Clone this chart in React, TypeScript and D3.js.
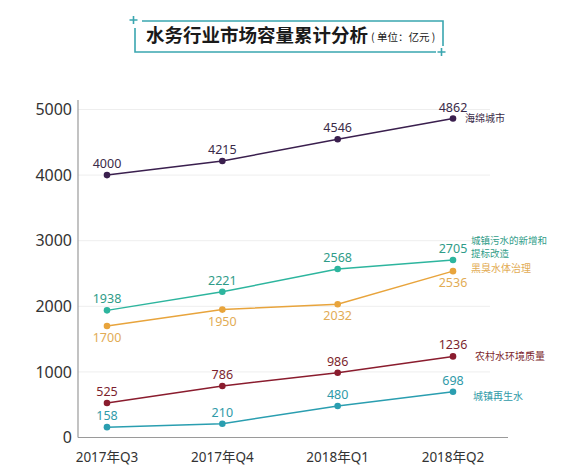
import React from "react";
import * as d3 from "d3";

const quarters = ["2017年Q3", "2017年Q4", "2018年Q1", "2018年Q2"];
const yTicks = [0, 1000, 2000, 3000, 4000, 5000];

const spongeCity = [4000, 4215, 4546, 4862];
const urbanSewage = [1938, 2221, 2568, 2705];
const blackOdorous = [1700, 1950, 2032, 2536];
const ruralWater = [525, 786, 986, 1236];
const reclaimedWater = [158, 210, 480, 698];

const seriesList = [
  { name: ["海绵城市"], values: spongeCity, color: "#3a1f4e", text: "#3a2a48", below: false },
  { name: ["城镇污水的新增和", "提标改造"], values: urbanSewage, color: "#2db59e", text: "#2f9c88", below: false },
  { name: ["黑臭水体治理"], values: blackOdorous, color: "#e8a43c", text: "#e2ac55", below: true },
  { name: ["农村水环境质量"], values: ruralWater, color: "#8a1c2e", text: "#7c1f2e", below: false },
  { name: ["城镇再生水"], values: reclaimedWater, color: "#2a9eb0", text: "#2f9aa8", below: false },
];

const FONT = "'Noto Sans', 'Noto Sans CJK SC', sans-serif";
const CJK = "'Noto Sans CJK SC', sans-serif";

export default function App() {
  const W = 574, H = 474;
  const x = d3.scalePoint<string>().domain(quarters).range([107, 453]);
  const y = d3.scaleLinear().domain([0, 5000]).range([437.5, 109.5]);
  const axisX = 78;
  const line = d3
    .line<number>()
    .x((_, i) => x(quarters[i]) as number)
    .y((d) => y(d));
  const frame = "#3aa6b0";

  return (
    <svg
      width={W}
      height={H}
      style={{ position: "absolute", left: 0, top: 0, background: "#fff" }}
      fontFamily={FONT}
    >
      {/* title frame */}
      <g stroke={frame} strokeWidth={1.6} fill="none">
        <path d="M142,21 H443 V46" />
        <path d="M135,28 V52 H436" />
        <path d="M129.5,20 H137.5 M133.5,16 V24" />
        <path d="M437.5,52 H445.5 M441.5,48 V56" />
      </g>
      <text x={146} y={42} fontSize={18.5} fontWeight="bold" fill="#1a1a1a" fontFamily={CJK}>
        水务行业市场容量累计分析
        <tspan fontSize={10.5} fontWeight="normal" dx={3} dy={-1}>( 单位：亿元 )</tspan>
      </text>

      {/* gridlines */}
      {yTicks.filter((t) => t > 0).map((t) => (
        <line key={t} x1={axisX} x2={490} y1={y(t)} y2={y(t)} stroke="#eeeeee" strokeWidth={1} />
      ))}
      {/* axes */}
      <line x1={axisX} x2={axisX} y1={100} y2={y(0)} stroke="#9a9a9a" strokeWidth={1.2} />
      <line x1={axisX} x2={508} y1={y(0)} y2={y(0)} stroke="#9a9a9a" strokeWidth={1.2} />
      {yTicks.map((t) => (
        <text key={t} x={72} y={y(t)} dy="0.35em" textAnchor="end" fontSize={16} fill="#333">
          {t}
        </text>
      ))}
      {quarters.map((q) => (
        <text key={q} x={x(q)} y={462} textAnchor="middle" fontSize={13.5} fill="#333">
          {q}
        </text>
      ))}

      {seriesList.map((s, si) => (
        <g key={si}>
          <path d={line(s.values) || ""} fill="none" stroke={s.color} strokeWidth={1.5} />
          {s.values.map((v, i) => (
            <g key={i}>
              <circle cx={x(quarters[i])} cy={y(v)} r={3.3} fill={s.color} />
              <text
                x={x(quarters[i])}
                y={s.below ? y(v) + 16 : y(v) - 7}
                textAnchor="middle"
                fontSize={12.5}
                fill={s.text}
              >
                {v}
              </text>
            </g>
          ))}
        </g>
      ))}

      {/* series labels */}
      <text x={465} y={y(spongeCity[3]) + 3} fontSize={10} fill="#3a2a48" fontFamily={CJK}>海绵城市</text>
      <text x={471} y={244} fontSize={9.5} fill="#2f9c88" fontFamily={CJK}>城镇污水的新增和</text>
      <text x={471} y={257} fontSize={9.5} fill="#2f9c88" fontFamily={CJK}>提标改造</text>
      <text x={471} y={272} fontSize={10} fill="#e2ac55" fontFamily={CJK}>黑臭水体治理</text>
      <text x={475} y={360} fontSize={10} fill="#7c1f2e" fontFamily={CJK}>农村水环境质量</text>
      <text x={473} y={400} fontSize={10} fill="#2f9aa8" fontFamily={CJK}>城镇再生水</text>
    </svg>
  );
}
